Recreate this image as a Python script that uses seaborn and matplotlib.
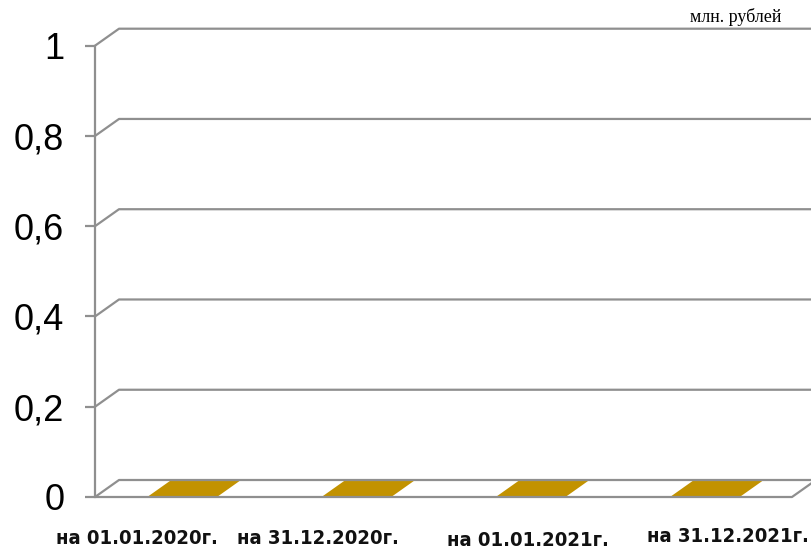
import matplotlib
matplotlib.use("Agg")
import matplotlib.pyplot as plt
import matplotlib.font_manager as fm
from matplotlib.patches import Polygon
import seaborn as sns
import pandas as pd

# Chart data
categories = ["на 01.01.2020г.", "на 31.12.2020г.", "на 01.01.2021г.", "на 31.12.2021г."]
values = [0, 0, 0, 0]
y_ticks = [0, 0.2, 0.4, 0.6, 0.8, 1.0]
y_tick_labels = ["0", "0,2", "0,4", "0,6", "0,8", "1"]
unit_label = "млн. рублей"

df = pd.DataFrame({"category": categories, "value": values})

sns.set_theme(style="white")
plt.rcParams["font.family"] = ["Liberation Sans", "DejaVu Sans"]


def condensed_bold_font():
    """Return FontProperties for a narrow bold face if one is installed."""
    best = None
    for f in fm.fontManager.ttflist:
        narrow = ("Condensed" in f.name or "Narrow" in f.name
                  or f.stretch in ("condensed", "semi-condensed", "extra-condensed")
                  or "Condensed" in f.fname or "Narrow" in f.fname)
        if not narrow:
            continue
        weight = f.weight if isinstance(f.weight, int) else 700 if "bold" in str(f.weight) else 400
        score = abs(weight - 700)
        if "Oblique" in f.fname or "Italic" in f.fname:
            score += 1000
        if best is None or score < best[0]:
            best = (score, f.fname)
    if best is None:
        return None
    return fm.FontProperties(fname=best[1])


W, H = 812, 550
fig = plt.figure(figsize=(W / 100, H / 100), dpi=100)

# plot area in pixels: x from 95 to 792, value 0 at y=497, value 1 at y=45.7
left_px, right_px = 95, 792
y0_px, y1_px = 497, 45.7
ax = fig.add_axes([left_px / W, (H - y0_px) / H,
                   (right_px - left_px) / W, (y0_px - y1_px) / H])

BAR_COLOR = "#C29200"
GRID_COLOR = "#8f8f8f"
LW = 1.6

sns.barplot(data=df, x="category", y="value", color=BAR_COLOR, width=0.4,
            saturation=1, ax=ax, zorder=2)
ax.set_xlim(-0.5, len(categories) - 0.5)
ax.set_ylim(0, 1)

# 3-D depth offset expressed in data units
px_per_cat = (right_px - left_px) / len(categories)
px_per_val = (y0_px - y1_px)
dx = 24 / px_per_cat
dy = 17 / px_per_val

# back wall / side wall gridlines
x_left = -0.5
x_right = len(categories) - 0.5
for v in y_ticks:
    ax.plot([x_left, x_left + dx, x_right + dx + 0.5], [v, v + dy, v + dy],
            color=GRID_COLOR, lw=LW, clip_on=False, zorder=3,
            solid_capstyle="butt")
# front and right edges of the floor
ax.plot([x_left, x_right, x_right + dx], [0, 0, dy], color=GRID_COLOR, lw=LW,
        clip_on=False, zorder=3, solid_capstyle="butt")

# top faces of the bars, drawn in perspective from each bar's own value
f0, f1 = 0.04, 0.94
for patch, v in zip(ax.patches, values):
    x = patch.get_x()
    w = patch.get_width()
    top = v
    poly = Polygon([(x + dx * f0, top + dy * f0), (x + w + dx * f0, top + dy * f0),
                    (x + w + dx * f1, top + dy * f1), (x + dx * f1, top + dy * f1)],
                   closed=True, facecolor=BAR_COLOR, edgecolor="none", zorder=2,
                   clip_on=False)
    ax.add_patch(poly)

# axes styling
for side in ["top", "right", "bottom"]:
    ax.spines[side].set_visible(False)
ax.spines["left"].set_color(GRID_COLOR)
ax.spines["left"].set_linewidth(LW)
ax.spines["left"].set_zorder(3)

ax.set_yticks(y_ticks)
ax.set_yticklabels(y_tick_labels, fontsize=26, color="black")
ax.tick_params(axis="y", which="both", left=True, length=7.2, width=LW,
               color=GRID_COLOR, pad=15, direction="out")
ax.set_xticks(range(len(categories)))
ax.set_xticklabels([])
ax.tick_params(axis="x", length=0)
ax.set_xlabel("")
ax.set_ylabel("")
ax.grid(False)

# category labels, staggered like the perspective rendering
label_font = condensed_bold_font()
if label_font is not None:
    label_font.set_size(14.5)
    label_font.set_weight("bold")
else:
    label_font = fm.FontProperties(family="DejaVu Sans", weight="bold", size=13)

label_offsets = [(-45, -47), (-38, -47), (-3, -49), (23, -45)]
for i, (name, (ox, oy)) in enumerate(zip(categories, label_offsets)):
    ax.annotate(name, xy=(i, 0), xycoords="data", xytext=(ox, oy),
                textcoords="offset pixels", ha="center", va="baseline",
                fontproperties=label_font, color="#111111",
                annotation_clip=False)

fig.text(736 / W, 1 - 22 / H, unit_label, ha="center", va="baseline",
         fontsize=13, family=["Liberation Serif", "DejaVu Serif"], color="black")

fig.savefig("out.png", dpi=100)
